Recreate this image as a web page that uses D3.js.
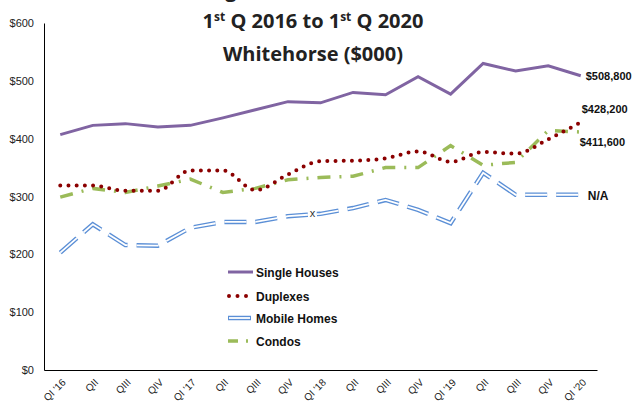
<!DOCTYPE html>
<html>
<head>
<meta charset="utf-8">
<script src="https://cdn.jsdelivr.net/npm/d3@7"></script>
<style>
  body { margin: 0; background: #fff; }
  svg { display: block; font-family: "Liberation Sans", Arial, sans-serif; }
</style>
</head>
<body>
<div id="chart"></div>
<script>
// kvartal på x-axeln
var quarters = ["QI '16", "QII", "QIII", "QIV", "QI '17", "QII", "QIII", "QIV",
  "QI '18", "QII", "QIII", "QIV", "QI '19", "QII", "QIII", "QIV", "QI '20"];
// värden i $000
var singleHouses = [407, 423, 426, 420, 423, 436, 450, 464, 462, 480, 476, 507, 477, 530, 517, 526, 508.8];
var duplexes = [319, 319, 310, 310, 345, 345, 311, 338, 361, 362, 366, 378, 360, 377, 374, 399, 428.2];
var mobileHomes = [203, 252, 216, 215, 246, 256, 256, 266, 270, 280, 294, 277, 254, 341, 303, 303, 303];
var condos = [299, 314, 307, 318, 330, 307, 314, 329, 333, 335, 350, 350, 388, 354, 359, 414, 411.6];
var yTicks = [0, 100, 200, 300, 400, 500, 600];
var endLabels = ["$508,800", "$428,200", "N/A", "$411,600"];
var seriesNames = ["Single Houses", "Duplexes", "Mobile Homes", "Condos"];

var width = 633;
var height = 404;
// plottytans kanter (obs: "top" är upptaget i window)
var plotLeft = 44, plotRight = 597, plotTop = 23, plotBottom = 370;

var svg = d3.select('#chart')
  .append('svg')
  .attr('width', width)
  .attr('height', height);

var x = d3.scaleBand()
  .domain(d3.range(quarters.length))
  .range([plotLeft, plotRight]);
var xc = function (i) { return x(i) + x.bandwidth() / 2; };

var y = d3.scaleLinear()
  .domain([0, 600])
  .range([plotBottom, plotTop]);

// titel (översta raden är nästan helt utanför bilden)
var titleFont = '"Open Sans", Lato, sans-serif';
svg.append('text')
  .attr('x', 167).attr('y', -3)
  .style('font-family', titleFont).style('font-weight', 'bold')
  .style('font-size', '20px').style('fill', '#222')
  .text('Average Prices');

var t1 = svg.append('text')
  .attr('x', 313).attr('y', 28)
  .attr('text-anchor', 'middle')
  .style('font-family', titleFont).style('font-weight', 'bold')
  .style('font-size', '20px').style('fill', '#222');
t1.append('tspan').text('1');
t1.append('tspan').attr('dy', -7).style('font-size', '12px').text('st');
t1.append('tspan').attr('dy', 7).text(' Q 2016 to 1');
t1.append('tspan').attr('dy', -7).style('font-size', '12px').text('st');
t1.append('tspan').attr('dy', 7).text(' Q 2020');

svg.append('text')
  .attr('x', 313).attr('y', 61)
  .attr('text-anchor', 'middle')
  .style('font-family', titleFont).style('font-weight', 'bold')
  .style('font-size', '20px').style('fill', '#222')
  .text('Whitehorse ($000)');

// y-axel
var yAxis = svg.append('g')
  .attr('transform', 'translate(' + plotLeft + ',0)')
  .call(d3.axisLeft(y).tickValues(yTicks).tickSize(0).tickPadding(10)
    .tickFormat(function (d) { return '$' + d; }));
yAxis.select('.domain').attr('stroke', '#000');
yAxis.selectAll('text')
  .style('font-family', '"Liberation Sans", Arial, sans-serif')
  .style('font-size', '11px').style('fill', '#222');

// x-axel
var xAxis = svg.append('g')
  .attr('transform', 'translate(0,' + plotBottom + ')')
  .call(d3.axisBottom(x).tickSize(0).tickSizeOuter(0)
    .tickFormat(function (i) { return quarters[i]; }));
xAxis.select('.domain').attr('stroke', '#000');
xAxis.selectAll('text')
  .attr('text-anchor', 'end')
  .attr('dy', 0)
  .attr('transform', 'translate(4,11) rotate(-45)')
  .style('font-family', '"Liberation Sans", Arial, sans-serif')
  .style('font-size', '10px').style('fill', '#222');

var line = d3.line()
  .x(function (d, i) { return xc(i); })
  .y(function (d) { return y(d); });
var smooth = d3.line()
  .x(function (d, i) { return xc(i); })
  .y(function (d) { return y(d); })
  .curve(d3.curveMonotoneX);

// mobile homes: dubbel linje (blå kant, vit mitt)
svg.append('path').datum(mobileHomes)
  .attr('d', line).attr('fill', 'none')
  .attr('stroke', '#5b8fd6').attr('stroke-width', 4.5)
  .attr('stroke-dasharray', '22 9');
svg.append('path').datum(mobileHomes)
  .attr('d', line).attr('fill', 'none')
  .attr('stroke', '#fff').attr('stroke-width', 1.8)
  .attr('stroke-dasharray', '22 9');

// condos
svg.append('path').datum(condos)
  .attr('d', line).attr('fill', 'none')
  .attr('stroke', '#9bbb59').attr('stroke-width', 3.5)
  .attr('stroke-dasharray', '13 9 2 9');

// duplexes (prickad, utjämnad)
svg.append('path').datum(duplexes)
  .attr('d', smooth).attr('fill', 'none')
  .attr('stroke', '#8b0000').attr('stroke-width', 4)
  .attr('stroke-linecap', 'round')
  .attr('stroke-dasharray', '0 8.2');

// single houses
svg.append('path').datum(singleHouses)
  .attr('d', line).attr('fill', 'none')
  .attr('stroke', '#8064a2').attr('stroke-width', 3);

// markering "x" för mobile homes
svg.append('text')
  .attr('x', xc(8) - 8).attr('y', y(mobileHomes[8]) + 3)
  .attr('text-anchor', 'middle')
  .style('font-size', '11px').style('fill', '#333')
  .text('x');

// etiketter vid sista punkten
var last = quarters.length - 1;
var lab = svg.append('g')
  .style('font-weight', 'bold').style('fill', '#111');
lab.append('text').attr('x', xc(last) + 5).attr('y', y(singleHouses[last]) + 4)
  .style('font-size', '11px').text(endLabels[0]);
lab.append('text').attr('x', xc(last) + 1).attr('y', y(duplexes[last]) - 9)
  .style('font-size', '11px').text(endLabels[1]);
lab.append('text').attr('x', xc(last) + 7).attr('y', y(mobileHomes[last]) + 5)
  .style('font-size', '12px').text(endLabels[2]);
lab.append('text').attr('x', xc(last) - 1).attr('y', y(condos[last]) + 14)
  .style('font-size', '11px').text(endLabels[3]);

// legend
var legend = svg.append('g').attr('transform', 'translate(228,272)');
var rowY = [0, 24, 46, 69];
seriesNames.forEach(function (name, k) {
  var g = legend.append('g').attr('transform', 'translate(0,' + rowY[k] + ')');
  if (k === 0) {
    g.append('line').attr('x1', 0).attr('x2', 25).attr('y1', 0).attr('y2', 0)
      .attr('stroke', '#8064a2').attr('stroke-width', 3);
  } else if (k === 1) {
    g.append('line').attr('x1', 1).attr('x2', 19).attr('y1', 0).attr('y2', 0)
      .attr('stroke', '#8b0000').attr('stroke-width', 4)
      .attr('stroke-linecap', 'round').attr('stroke-dasharray', '0 8.5');
  } else if (k === 2) {
    g.append('line').attr('x1', 0).attr('x2', 23).attr('y1', 0).attr('y2', 0)
      .attr('stroke', '#5b8fd6').attr('stroke-width', 4.5);
    g.append('line').attr('x1', 1).attr('x2', 22).attr('y1', 0).attr('y2', 0)
      .attr('stroke', '#fff').attr('stroke-width', 1.8);
  } else {
    g.append('line').attr('x1', 0).attr('x2', 24).attr('y1', 0).attr('y2', 0)
      .attr('stroke', '#9bbb59').attr('stroke-width', 3.5)
      .attr('stroke-dasharray', '10 8 2 8');
  }
  g.append('text').attr('x', 28).attr('y', 4.5)
    .style('font-size', '12px').style('font-weight', 'bold').style('fill', '#111')
    .text(name);
});
</script>
</body>
</html>
